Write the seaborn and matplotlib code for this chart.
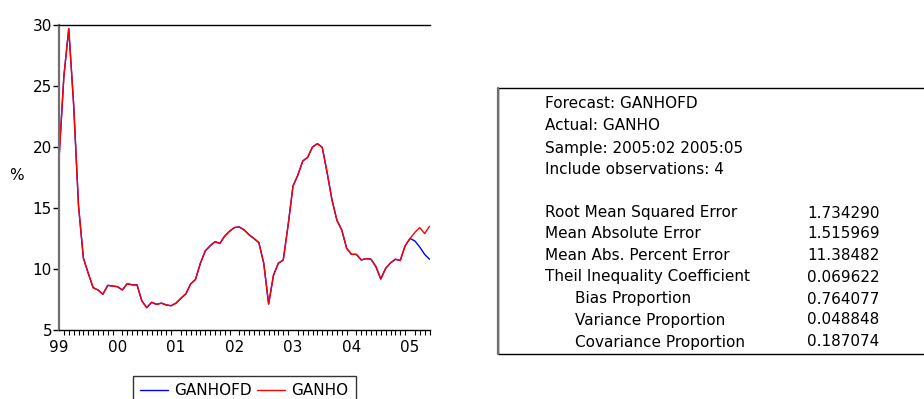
import numpy as np
import pandas as pd
import matplotlib
matplotlib.use("Agg")
import matplotlib.pyplot as plt
import seaborn as sns
from matplotlib.lines import Line2D
from matplotlib.patches import Rectangle

# ---- data (monthly, 1999:01 - 2005:05) ----
ganho = [19.0, 25.8, 29.7, 23.5, 15.2, 10.9, 9.65, 8.47, 8.28, 7.93, 8.66, 8.6,
         8.55, 8.28, 8.8, 8.7, 8.7, 7.38, 6.83, 7.27, 7.1, 7.2, 7.05, 6.99,
         7.2, 7.6, 7.95, 8.77, 9.15, 10.47, 11.48, 11.9, 12.24, 12.1, 12.7, 13.1,
         13.4, 13.44, 13.2, 12.8, 12.5, 12.16, 10.47, 7.13, 9.5, 10.47, 10.74, 13.6,
         16.8, 17.7, 18.85, 19.15, 20.0, 20.27, 19.97, 17.9, 15.66, 14.0, 13.2, 11.7,
         11.2, 11.2, 10.74, 10.85, 10.8, 10.2, 9.18, 10.05, 10.5, 10.8, 10.7, 11.9,
         12.5, 13.0, 13.4, 12.9, 13.5]
ganhofd = ganho[:72] + [12.5, 12.3, 11.8, 11.2, 10.8]
year_labels = ["99", "00", "01", "02", "03", "04", "05"]
y_ticks = [5, 10, 15, 20, 25, 30]
stat_names = ["Root Mean Squared Error", "Mean Absolute Error", "Mean Abs. Percent Error",
              "Theil Inequality Coefficient", "Bias Proportion", "Variance Proportion",
              "Covariance Proportion"]
stat_values = ["1.734290", "1.515969", "11.38482", "0.069622", "0.764077", "0.048848", "0.187074"]
header_lines = ["Forecast: GANHOFD", "Actual: GANHO", "Sample: 2005:02 2005:05",
                "Include observations: 4"]

n = len(ganho)
df = pd.DataFrame({
    "t": list(range(n)) * 2,
    "value": ganhofd + ganho,
    "series": ["GANHOFD"] * n + ["GANHO"] * n,
})

sns.set_style("white")
plt.rcParams["font.family"] = ["DejaVu Sans"]
plt.rcParams["text.color"] = "black"
plt.rcParams["axes.labelcolor"] = "black"
plt.rcParams["xtick.color"] = "black"
plt.rcParams["ytick.color"] = "black"
plt.rcParams["legend.labelcolor"] = "black"
FS = 11

W, H = 924, 399
fig = plt.figure(figsize=(W / 100, H / 100), dpi=100)
x0, x1 = 59, 59 + (n - 1) * 4.875
y0, y1 = 25, 330
ax = fig.add_axes([x0 / W, 1 - y1 / H, (x1 - x0) / W, (y1 - y0) / H])

sns.lineplot(data=df, x="t", y="value", hue="series",
             palette={"GANHOFD": "#0000ff", "GANHO": "#ff0000"},
             linewidth=1.0, ax=ax, legend=False, estimator=None)

ax.set_xlim(0, n - 1)
ax.set_ylim(5, 30)
ax.set_yticks(y_ticks)
ax.set_yticklabels([str(v) for v in y_ticks], fontsize=FS, color="black")
ax.set_xticks(list(range(0, n, 12)))
ax.set_xticklabels(year_labels[:len(range(0, n, 12))], fontsize=FS, color="black")
ax.set_xticks(list(range(n)), minor=True)
ax.tick_params(axis="x", which="major", direction="out", length=6, width=1, pad=1, colors="black")
ax.tick_params(axis="x", which="minor", direction="out", length=3.5, width=0.8, bottom=True,
               colors="black")
ax.tick_params(axis="y", which="major", direction="out", length=4, width=1, pad=1, left=True,
               colors="black")
ax.set_xlabel("")
ax.set_ylabel("")
for s in ["top", "bottom"]:
    ax.spines[s].set_color("black")
    ax.spines[s].set_linewidth(1.0)
ax.spines["left"].set_color("#707070")
ax.spines["left"].set_linewidth(1.6)
ax.spines["right"].set_visible(False)

fig.text(16 / W, 1 - 176 / H, "%", fontsize=FS, ha="center", va="center", color="black")

# legend (cropped at bottom as in reference)
handles = [Line2D([], [], color="#0000ff", lw=1.0), Line2D([], [], color="#ff0000", lw=1.0)]
leg = fig.legend(handles, ["GANHOFD", "GANHO"], loc="upper left",
                 bbox_to_anchor=(133 / W, 1 - 376 / H), ncol=2, frameon=True,
                 fontsize=FS, handlelength=1.85, handletextpad=0.4, columnspacing=0.35,
                 borderaxespad=0, borderpad=0.45, fancybox=False, labelcolor="black")
leg.get_frame().set_edgecolor("black")
leg.get_frame().set_linewidth(1.0)

# statistics box
bx0, by0, by1 = 498, 88, 354
fig.add_artist(Rectangle((bx0 / W, 1 - by1 / H), (W + 10 - bx0) / W, (by1 - by0) / H,
                         transform=fig.transFigure, fill=False, edgecolor="black", lw=1.0,
                         clip_on=False))
fig.add_artist(Line2D([bx0 / W, bx0 / W], [1 - by1 / H, 1 - by0 / H],
                      transform=fig.transFigure, color="#707070", lw=1.6))
line_y = [104, 126, 148, 170]
for txt, yy in zip(header_lines, line_y):
    fig.text(545 / W, 1 - yy / H, txt, fontsize=FS, ha="left", va="center", color="black")
stat_y = [213, 234, 256, 277, 299, 320, 342]
for i, (nm, val, yy) in enumerate(zip(stat_names, stat_values, stat_y)):
    xx = 575 if i >= 4 else 545
    fig.text(xx / W, 1 - yy / H, nm, fontsize=FS, ha="left", va="center", color="black")
    fig.text(807 / W, 1 - yy / H, val, fontsize=FS, ha="left", va="center", color="black")

fig.savefig("out.png", dpi=100)
